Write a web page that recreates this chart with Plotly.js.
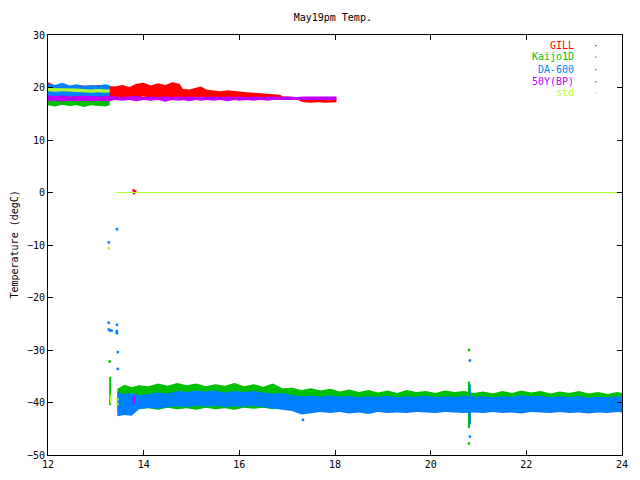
<!DOCTYPE html>
<html>
<head>
<meta charset="utf-8">
<script src="https://cdn.plot.ly/plotly-3.0.1.min.js"></script>
<style>
  body { margin: 0; background: #fff; }
  #tempPlot { width: 640px; height: 480px; }
</style>
</head>
<body>
<div id="tempPlot"></div>
<script>
// series names and colours (gnuplot defaults)
var seriesNames = ["GILL", "Kaijo1D", "DA-600", "50Y(BP)", "std"]
var seriesColors = ["#ff0000", "#00c000", "#0080ff", "#c000ff", "#adff2f"]

// GILL: one band, 12h -> 18h
var gillX = [12.0, 12.15, 12.3, 12.45, 12.6, 12.75, 12.9, 13.05, 13.2, 13.29, 13.4, 13.55, 13.7, 13.85, 14.0, 14.15, 14.3, 14.45, 14.6, 14.75, 14.82, 14.95, 15.1, 15.2, 15.31, 15.45, 15.6, 15.75, 15.9, 16.01, 16.15, 16.3, 16.45, 16.6, 16.7, 16.85, 16.91, 17.05, 17.2, 17.33, 17.5, 17.65, 17.8, 17.95, 18.03]
var gillHi = [21.0, 20.4, 20.6, 20.3, 20.5, 20.4, 20.3, 20.5, 20.4, 20.3, 20.2, 20.5, 20.1, 20.7, 20.9, 20.4, 20.8, 20.5, 21.0, 20.7, 19.7, 19.6, 19.9, 20.2, 19.6, 19.5, 19.3, 19.5, 19.3, 19.2, 19.1, 19.0, 18.9, 18.8, 18.7, 18.6, 18.3, 18.2, 18.2, 18.1, 18.1, 18.2, 18.1, 18.1, 18.1]
var gillLo = [18.4, 18.3, 18.5, 18.3, 18.4, 18.2, 18.4, 18.3, 18.5, 18.3, 18.2, 18.0, 18.2, 18.1, 18.3, 18.0, 18.2, 18.1, 18.0, 18.2, 18.1, 18.0, 18.2, 18.1, 18.2, 18.0, 18.1, 18.2, 18.0, 18.1, 18.2, 18.0, 18.1, 18.2, 18.0, 18.1, 17.7, 17.6, 17.7, 17.2, 17.1, 17.2, 17.1, 17.2, 17.2]
var gillGlitchX = [13.79, 13.8, 13.82]
var gillGlitchY = [0.4, -0.1, 0.2]

// Kaijo1D: upper part before 13.3h, lower part after 13.45h
var kaijoTopX = [12.0, 12.15, 12.3, 12.45, 12.6, 12.75, 12.9, 13.05, 13.2, 13.29]
var kaijoTopHi = [18.2, 18.1, 18.3, 18.2, 18.1, 18.2, 18.3, 18.1, 18.2, 18.1]
var kaijoTopLo = [16.6, 16.4, 16.7, 16.5, 16.6, 16.3, 16.6, 16.5, 16.4, 16.6]
var lowX = [13.45, 13.6, 13.75, 13.9, 14.1, 14.3, 14.5, 14.7, 14.9, 15.1, 15.3, 15.5, 15.7, 15.9, 16.1, 16.3, 16.5, 16.7, 16.9, 17.1, 17.3, 17.5, 17.7, 17.9, 18.1, 18.3, 18.5, 18.7, 18.9, 19.1, 19.3, 19.5, 19.7, 19.9, 20.1, 20.3, 20.5, 20.7, 20.9, 21.1, 21.3, 21.5, 21.7, 21.9, 22.1, 22.3, 22.5, 22.7, 22.9, 23.1, 23.3, 23.5, 23.7, 23.9, 24.0]
var kaijoLowHi = [-37.4, -36.6, -37.1, -36.7, -36.9, -36.4, -36.8, -36.3, -36.7, -36.4, -36.9, -36.5, -36.8, -36.3, -36.9, -36.5, -37.0, -36.4, -37.3, -37.2, -37.6, -37.3, -37.7, -37.4, -37.9, -37.5, -38.0, -37.6, -38.1, -37.7, -38.2, -37.6, -38.0, -37.8, -38.2, -37.7, -38.0, -37.8, -38.2, -37.9, -38.3, -37.8, -38.2, -37.7, -38.1, -37.8, -38.3, -37.9, -38.2, -37.8, -38.3, -38.0, -38.4, -38.0, -38.2]
var kaijoLowLo = [-41.8, -41.6, -41.9, -41.3, -41.1, -41.4, -41.0, -41.3, -41.1, -41.4, -41.0, -41.3, -41.1, -41.4, -41.0, -41.2, -41.0, -41.3, -41.1, -41.4, -41.7, -41.5, -41.8, -41.5, -41.6, -41.4, -41.7, -41.5, -41.6, -41.3, -41.6, -41.4, -41.7, -41.5, -41.6, -41.3, -41.6, -41.4, -41.7, -41.5, -41.6, -41.3, -41.6, -41.4, -41.7, -41.5, -41.6, -41.4, -41.6, -41.3, -41.6, -41.4, -41.7, -41.5, -41.6]
var kaijoGlitchX = [13.29, 13.44, 20.8, 20.8]
var kaijoGlitchY = [-32.2, -26.8, -30.0, -47.8]
var kaijoSpikeX = [13.3, 13.3, null, 20.8, 20.8]
var kaijoSpikeY = [-35.1, -40.5, null, -36.0, -44.9]

// DA-600
var daTopHi = [20.7, 20.5, 20.9, 20.4, 20.6, 20.3, 20.5, 20.4, 20.6, 20.5]
var daTopLo = [18.2, 18.1, 18.3, 18.2, 18.2, 18.1, 18.3, 18.2, 18.1, 18.2]
var daLowHi = [-38.0, -38.4, -38.2, -38.6, -38.4, -38.1, -38.3, -37.8, -38.0, -37.7, -37.9, -37.7, -38.1, -37.8, -38.0, -37.8, -38.1, -38.3, -38.2, -38.6, -38.8, -38.7, -38.9, -38.6, -38.9, -38.7, -39.0, -38.8, -38.9, -38.7, -39.0, -38.8, -38.9, -38.7, -39.0, -38.8, -38.9, -38.7, -38.9, -38.8, -39.0, -38.8, -38.9, -38.6, -38.8, -38.7, -39.0, -38.8, -39.0, -38.8, -39.1, -38.9, -39.0, -38.8, -38.9]
var daLowLo = [-42.6, -42.4, -42.5, -41.3, -41.0, -41.2, -40.9, -40.7, -40.9, -40.6, -40.8, -40.6, -40.9, -40.7, -40.8, -40.6, -40.9, -41.1, -41.3, -41.6, -42.3, -42.0, -41.8, -42.0, -41.8, -42.1, -41.9, -42.2, -41.8, -42.0, -41.9, -42.0, -41.8, -41.9, -42.0, -41.8, -41.9, -42.0, -41.9, -42.0, -41.8, -42.0, -41.9, -42.1, -41.8, -41.9, -42.0, -41.8, -42.0, -41.9, -42.1, -41.9, -42.0, -41.8, -41.9]
var daGlitchX = [13.44, 13.27, 13.27, 13.27, 13.3, 13.33, 13.44, 13.44, 13.44, 13.46, 13.46, 17.33, 20.82, 20.82]
var daGlitchY = [-7.0, -9.5, -24.8, -26.1, -26.3, -26.3, -25.2, -26.4, -26.7, -30.4, -33.6, -43.3, -32.0, -46.5]
var daSpikeX = [20.82, 20.82]
var daSpikeY = [-36.6, -44.2]

// 50Y(BP)
var fiftyHi = [18.5, 18.4, 18.5, 18.3, 18.4, 18.5, 18.4, 18.3, 18.4, 18.5, 18.3, 18.2, 18.3, 18.4, 18.2, 18.3, 18.2, 18.3, 18.2, 18.3, 18.2, 18.3, 18.2, 18.3, 18.2, 18.3, 18.2, 18.3, 18.2, 18.3, 18.2, 18.3, 18.2, 18.3, 18.3, 18.2, 18.3, 18.3, 18.2, 18.3, 18.3, 18.2, 18.3, 18.3, 18.3]
var fiftyLo = [17.4, 17.5, 17.3, 17.5, 17.4, 17.5, 17.4, 17.5, 17.4, 17.4, 17.6, 17.5, 17.6, 17.4, 17.6, 17.5, 17.6, 17.3, 17.6, 17.5, 17.6, 17.4, 17.6, 17.5, 17.6, 17.5, 17.6, 17.4, 17.6, 17.5, 17.6, 17.5, 17.6, 17.5, 17.6, 17.6, 17.6, 17.5, 17.6, 17.6, 17.6, 17.5, 17.6, 17.6, 17.6]
var fiftySpikeX = [13.8, 13.8]
var fiftySpikeY = [-38.8, -40.2]

// std
var stdTopHi = [19.9, 19.9, 19.8, 19.9, 19.8, 19.7, 19.6, 19.7, 19.6, 19.6]
var stdTopLo = [19.3, 19.2, 19.3, 19.2, 19.2, 19.1, 19.0, 19.1, 19.0, 19.1]
var stdLineX = [13.43, 24.0]
var stdLineY = [0, 0]
var stdGlitchX = [13.27, 13.45, 13.45]
var stdGlitchY = [-10.6, -39.4, -40.3]
var stdSpikeX = [13.31, 13.31]
var stdSpikeY = [-38.5, -40.2]

var xTicks = [12, 14, 16, 18, 20, 22, 24]
var yTicks = [-50, -40, -30, -20, -10, 0, 10, 20, 30]

function band(x, lo, hi, color) {
    return [
        { x: x, y: lo, mode: 'lines', line: { width: 0, color: color }, hoverinfo: 'skip' },
        { x: x, y: hi, mode: 'lines', line: { width: 0, color: color }, fill: 'tonexty', fillcolor: color, hoverinfo: 'skip' }
    ]
}
function dots(x, y, color) {
    return { x: x, y: y, mode: 'markers', marker: { size: 2.5, color: color, symbol: 'square' }, hoverinfo: 'skip' }
}
function seg(x, y, color, w) {
    return { x: x, y: y, mode: 'lines', line: { width: w, color: color }, connectgaps: false, hoverinfo: 'skip' }
}

window.onload = () => {
    var c = seriesColors
    var traces = []
    traces = traces.concat(band(gillX, gillLo, gillHi, c[0]))
    traces.push(dots(gillGlitchX, gillGlitchY, c[0]))

    traces = traces.concat(band(kaijoTopX, kaijoTopLo, kaijoTopHi, c[1]))
    traces = traces.concat(band(lowX, kaijoLowLo, kaijoLowHi, c[1]))
    traces.push(dots(kaijoGlitchX, kaijoGlitchY, c[1]))
    traces.push(seg(kaijoSpikeX, kaijoSpikeY, c[1], 2))

    traces = traces.concat(band(kaijoTopX, daTopLo, daTopHi, c[2]))
    traces = traces.concat(band(lowX, daLowLo, daLowHi, c[2]))
    traces.push(dots(daGlitchX, daGlitchY, c[2]))
    traces.push(seg(daSpikeX, daSpikeY, c[2], 2))

    traces = traces.concat(band(gillX, fiftyLo, fiftyHi, c[3]))
    traces.push(seg(fiftySpikeX, fiftySpikeY, c[3], 2.5))

    traces = traces.concat(band(kaijoTopX, stdTopLo, stdTopHi, c[4]))
    traces.push(seg(stdLineX, stdLineY, c[4], 1))
    traces.push(dots(stdGlitchX, stdGlitchY, c[4]))
    traces.push(seg(stdSpikeX, stdSpikeY, c[4], 1.5))

    // gnuplot-style key: right-aligned coloured names with a dot sample
    var keyY = [0.975, 0.948, 0.918, 0.889, 0.862]
    var annotations = []
    var shapes = []
    seriesNames.forEach(function(name, i) {
        annotations.push({
            xref: 'paper', yref: 'paper', x: 0.918, y: keyY[i],
            xanchor: 'right', yanchor: 'middle', showarrow: false, borderpad: 0,
            text: name, font: { color: c[i], size: 10 }
        })
        shapes.push({
            type: 'rect', xref: 'paper', yref: 'paper',
            x0: 0.953, x1: 0.9555, y0: keyY[i] - 0.002, y1: keyY[i] + 0.001,
            line: { width: 0 }, fillcolor: c[i]
        })
    })
    annotations.push({
        xref: 'paper', yref: 'paper', x: -0.06, y: 0.5,
        xanchor: 'center', yanchor: 'middle', showarrow: false, textangle: -90,
        text: 'Temperature (degC)', font: { size: 10, color: '#000' }
    })

    var axisBase = {
        showgrid: false, zeroline: false, showline: true, linecolor: '#000', linewidth: 1,
        mirror: 'allticks', ticks: 'inside', ticklen: 5, tickcolor: '#000', tickwidth: 1,
        tickfont: { size: 10, color: '#000' }, fixedrange: true
    }

    var layout = {
        width: 640, height: 480,
        margin: { l: 48, r: 18, t: 35, b: 25, pad: 0 },
        paper_bgcolor: '#fff', plot_bgcolor: '#fff',
        font: { family: 'DejaVu Sans Mono, monospace', size: 10, color: '#000' },
        title: { text: 'May19pm Temp.', x: 0.52, y: 0.964, xanchor: 'center', yanchor: 'middle', font: { size: 10 } },
        showlegend: false,
        hovermode: false,
        xaxis: Object.assign({}, axisBase, { range: [12, 24], tickvals: xTicks }),
        yaxis: Object.assign({}, axisBase, { range: [-50, 30], tickvals: yTicks }),
        annotations: annotations,
        shapes: shapes
    }

    Plotly.newPlot('tempPlot', traces, layout, { staticPlot: true, displayModeBar: false })
}
</script>
</body>
</html>
